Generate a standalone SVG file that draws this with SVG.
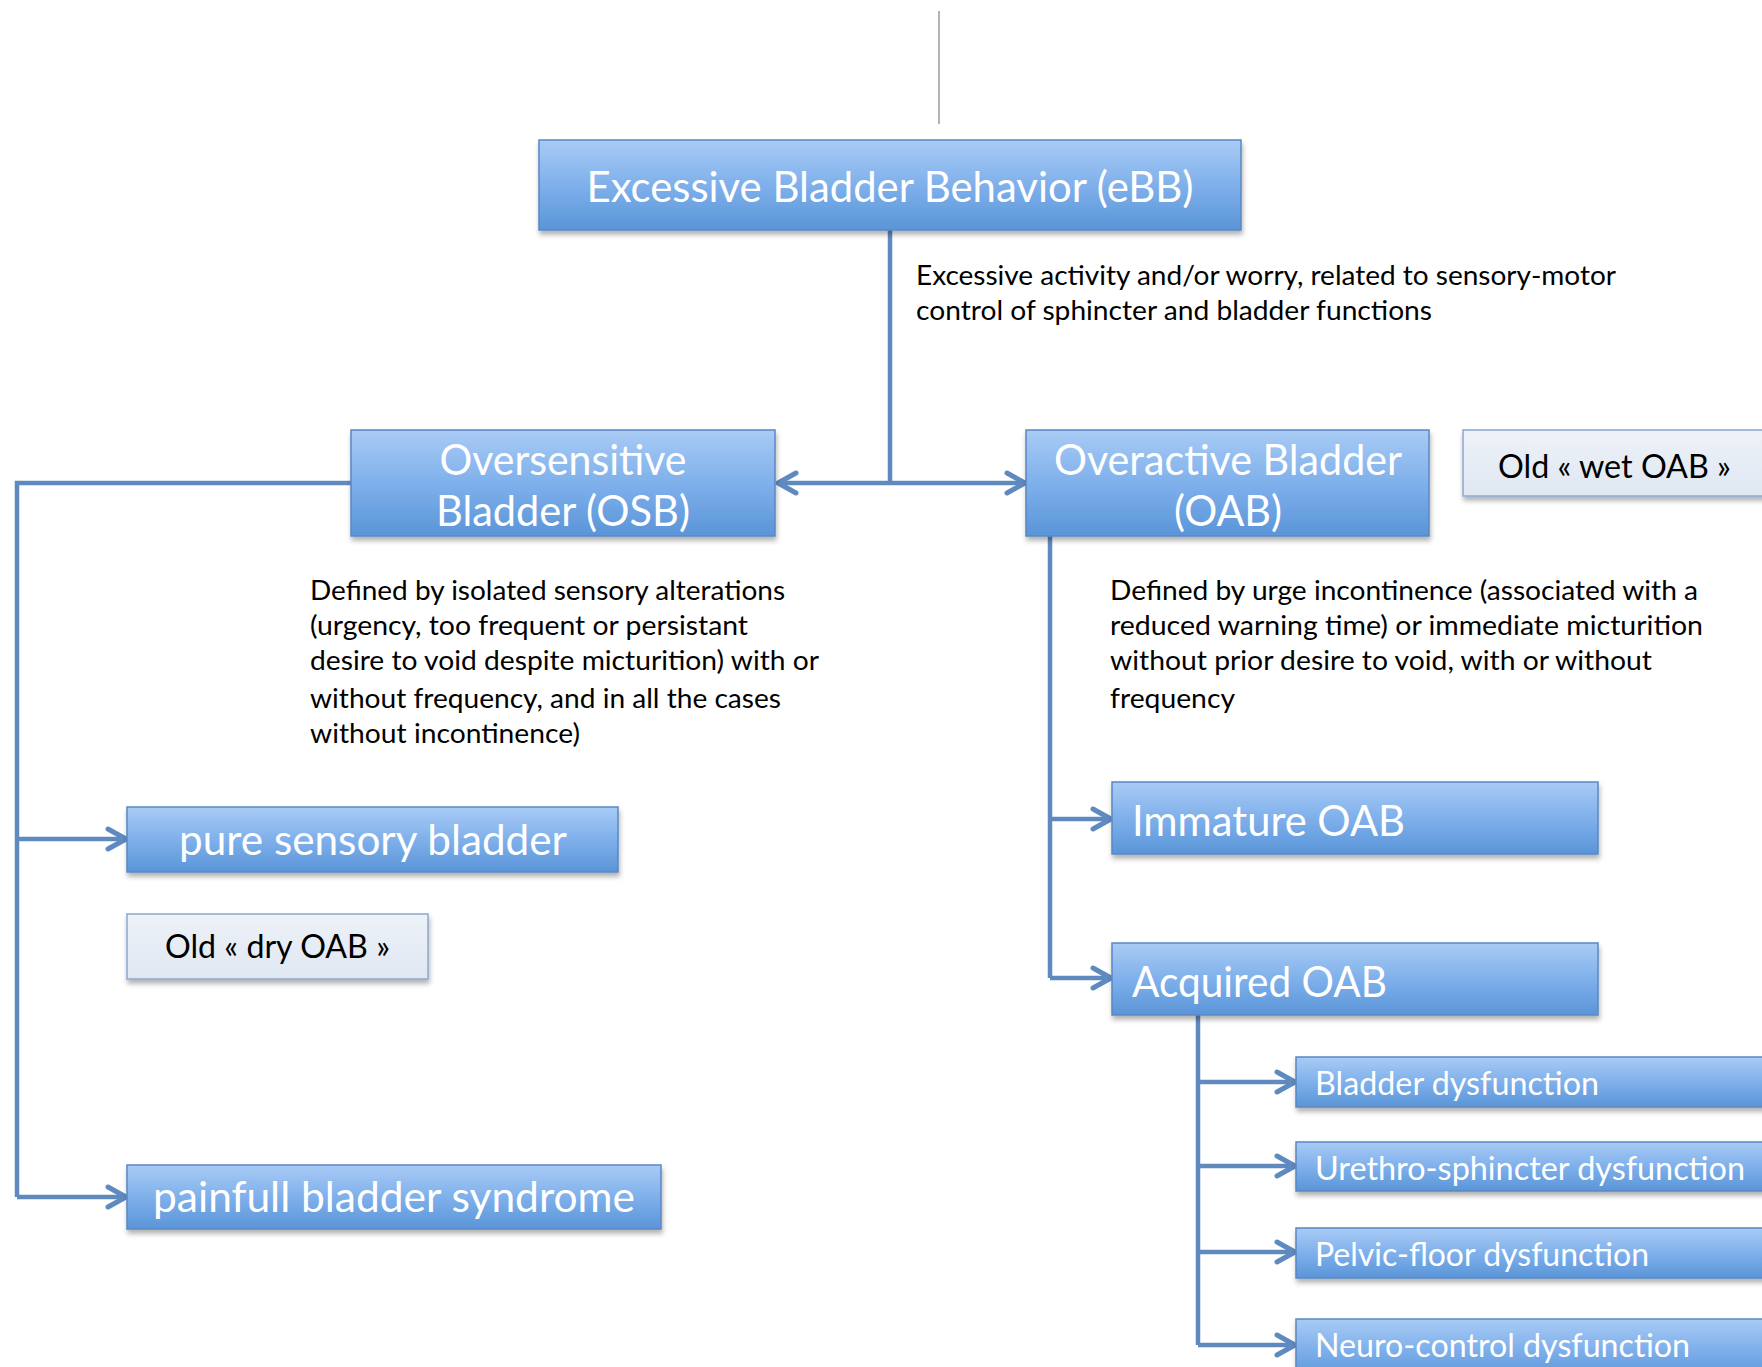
<svg xmlns="http://www.w3.org/2000/svg" width="1762" height="1367" viewBox="0 0 1762 1367">
<defs>
<linearGradient id="blue" x1="0" y1="0" x2="0" y2="1">
<stop offset="0" stop-color="#a9cbf5"/>
<stop offset="0.5" stop-color="#7fb0eb"/>
<stop offset="1" stop-color="#5a95d8"/>
</linearGradient>
<linearGradient id="pale" x1="0" y1="0" x2="0" y2="1">
<stop offset="0" stop-color="#eef2f8"/>
<stop offset="1" stop-color="#dfe7f2"/>
</linearGradient>
<filter id="sh" x="-5%" y="-10%" width="110%" height="130%">
<feDropShadow dx="1" dy="4" stdDeviation="2.5" flood-color="#000" flood-opacity="0.3"/>
</filter>
<marker id="arr" viewBox="0 0 24 26" refX="21" refY="13" markerWidth="24" markerHeight="26" markerUnits="userSpaceOnUse" orient="auto">
<path d="M3,3 L21,13 L3,23" fill="none" stroke="#5f8ac0" stroke-width="5" stroke-linecap="round" stroke-linejoin="round"/>
</marker>
</defs>
<style>
.bx{fill:url(#blue);stroke:#5a88c2;stroke-width:1.5;filter:url(#sh)}
.pl{fill:url(#pale);stroke:#8aa8cf;stroke-width:1.5;filter:url(#sh)}
.wt{font-family:Lato,"Liberation Sans",Arial,sans-serif;fill:#ffffff;}
.bk{font-family:Lato,"Liberation Sans",Arial,sans-serif;fill:#000000;}
.c{fill:none;stroke:#5f8ac0;stroke-width:4.5}
.ca{fill:none;stroke:#5f8ac0;stroke-width:4.5;marker-end:url(#arr)}
</style>
<rect width="1762" height="1367" fill="#ffffff"/>
<line x1="939" y1="11" x2="939" y2="124" stroke="#9a9a9a" stroke-width="1.5"/>

<g id="connectors">
<path class="c" d="M890,230 V483"/>
<path class="ca" d="M890,483 H778"/>
<path class="ca" d="M890,483 H1025"/>
<path class="c" d="M351,483 H17 V1197"/>
<path class="ca" d="M17,1197 H126"/>
<path class="ca" d="M17,839 H126"/>
<path class="c" d="M1050,536 V978"/>
<path class="ca" d="M1050,978 H1111"/>
<path class="ca" d="M1050,819 H1111"/>
<path class="c" d="M1198,1015 V1345"/>
<path class="ca" d="M1198,1345 H1295"/>
<path class="ca" d="M1198,1252 H1295"/>
<path class="ca" d="M1198,1166 H1295"/>
<path class="ca" d="M1198,1082 H1295"/>
</g>

<g id="ebb">
<rect class="bx" x="539" y="140" width="702" height="90"/>
<text class="wt" x="890" y="202" font-size="42" text-anchor="middle" textLength="607" lengthAdjust="spacingAndGlyphs">Excessive Bladder Behavior (eBB)</text>
</g>

<g id="ebb-desc">
<text class="bk" x="916" y="285" font-size="27" textLength="700" lengthAdjust="spacingAndGlyphs">Excessive activity and/or worry, related to sensory-motor</text>
<text class="bk" x="916" y="320" font-size="27" textLength="516" lengthAdjust="spacingAndGlyphs">control of sphincter and bladder functions</text>
</g>

<g id="osb">
<rect class="bx" x="351" y="430" width="424" height="106"/>
<text class="wt" x="563" y="475" font-size="42" text-anchor="middle" textLength="247" lengthAdjust="spacingAndGlyphs">Oversensitive</text>
<text class="wt" x="563" y="526" font-size="42" text-anchor="middle" textLength="254" lengthAdjust="spacingAndGlyphs">Bladder (OSB)</text>
</g>

<g id="oab">
<rect class="bx" x="1026" y="430" width="403" height="106"/>
<text class="wt" x="1228" y="475" font-size="42" text-anchor="middle" textLength="348" lengthAdjust="spacingAndGlyphs">Overactive Bladder</text>
<text class="wt" x="1228" y="526" font-size="42" text-anchor="middle" textLength="108" lengthAdjust="spacingAndGlyphs">(OAB)</text>
</g>

<g id="old-wet">
<rect class="pl" x="1463" y="430" width="310" height="66"/>
<text class="bk" x="1498" y="478" font-size="32" textLength="233" lengthAdjust="spacingAndGlyphs">Old « wet OAB »</text>
</g>

<g id="osb-desc">
<text class="bk" x="310" y="600" font-size="27" textLength="475" lengthAdjust="spacingAndGlyphs">Defined by isolated sensory alterations</text>
<text class="bk" x="310" y="635" font-size="27" textLength="438" lengthAdjust="spacingAndGlyphs">(urgency, too frequent or persistant</text>
<text class="bk" x="310" y="670" font-size="27" textLength="509" lengthAdjust="spacingAndGlyphs">desire to void despite micturition) with or</text>
<text class="bk" x="310" y="708" font-size="27" textLength="471" lengthAdjust="spacingAndGlyphs">without frequency, and in all the cases</text>
<text class="bk" x="310" y="743" font-size="27" textLength="270" lengthAdjust="spacingAndGlyphs">without incontinence)</text>
</g>

<g id="oab-desc">
<text class="bk" x="1110" y="600" font-size="27" textLength="588" lengthAdjust="spacingAndGlyphs">Defined by urge incontinence (associated with a</text>
<text class="bk" x="1110" y="635" font-size="27" textLength="593" lengthAdjust="spacingAndGlyphs">reduced warning time) or immediate micturition</text>
<text class="bk" x="1110" y="670" font-size="27" textLength="542" lengthAdjust="spacingAndGlyphs">without prior desire to void, with or without</text>
<text class="bk" x="1110" y="708" font-size="27" textLength="125" lengthAdjust="spacingAndGlyphs">frequency</text>
</g>

<g id="pure-sensory">
<rect class="bx" x="127" y="807" width="491" height="65"/>
<text class="wt" x="373" y="855" font-size="42" text-anchor="middle" textLength="388" lengthAdjust="spacingAndGlyphs">pure sensory bladder</text>
</g>

<g id="old-dry">
<rect class="pl" x="127" y="914" width="301" height="65"/>
<text class="bk" x="165" y="958" font-size="32" textLength="225" lengthAdjust="spacingAndGlyphs">Old « dry OAB »</text>
</g>

<g id="painfull">
<rect class="bx" x="127" y="1165" width="534" height="64"/>
<text class="wt" x="394" y="1212" font-size="42" text-anchor="middle" textLength="482" lengthAdjust="spacingAndGlyphs">painfull bladder syndrome</text>
</g>

<g id="immature">
<rect class="bx" x="1112" y="782" width="486" height="72"/>
<text class="wt" x="1132" y="836" font-size="42" textLength="273" lengthAdjust="spacingAndGlyphs">Immature OAB</text>
</g>

<g id="acquired">
<rect class="bx" x="1112" y="943" width="486" height="72"/>
<text class="wt" x="1132" y="997" font-size="42" textLength="255" lengthAdjust="spacingAndGlyphs">Acquired OAB</text>
</g>

<g id="bladder-dys">
<rect class="bx" x="1296" y="1057" width="480" height="50"/>
<text class="wt" x="1315" y="1095" font-size="33" textLength="284" lengthAdjust="spacingAndGlyphs">Bladder dysfunction</text>
</g>

<g id="urethro-dys">
<rect class="bx" x="1296" y="1142" width="480" height="49"/>
<text class="wt" x="1315" y="1180" font-size="33" textLength="430" lengthAdjust="spacingAndGlyphs">Urethro-sphincter dysfunction</text>
</g>

<g id="pelvic-dys">
<rect class="bx" x="1296" y="1228" width="480" height="50"/>
<text class="wt" x="1315" y="1266" font-size="33" textLength="334" lengthAdjust="spacingAndGlyphs">Pelvic-floor dysfunction</text>
</g>

<g id="neuro-dys">
<rect class="bx" x="1296" y="1319" width="480" height="60"/>
<text class="wt" x="1315" y="1357" font-size="33" textLength="375" lengthAdjust="spacingAndGlyphs">Neuro-control dysfunction</text>
</g>
</svg>
